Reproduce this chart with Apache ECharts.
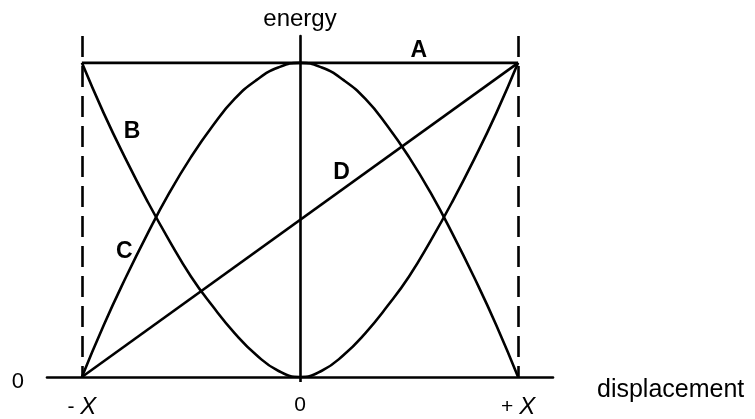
<!DOCTYPE html>
<html>
<head>
<meta charset="utf-8">
<script src="https://cdn.jsdelivr.net/npm/echarts@6/dist/echarts.min.js"></script>
<style>
  html, body { margin: 0; padding: 0; background: #fff; }
  #main { width: 755px; height: 419px; }
</style>
</head>
<body>
<div id="main"></div>
<script>
// displacement in units of X (from -X to +X)
const displacement = [-1, -0.9, -0.8, -0.7, -0.6, -0.5, -0.4, -0.3, -0.2, -0.1, 0,
  0.1, 0.2, 0.3, 0.4, 0.5, 0.6, 0.7, 0.8, 0.9, 1];
// curve B (falls to 0 at the middle)
const curveB = [1, 0.84, 0.695, 0.56, 0.435, 0.32, 0.225, 0.14, 0.07, 0.02, 0,
  0.02, 0.07, 0.14, 0.225, 0.32, 0.435, 0.56, 0.695, 0.84, 1];
// curve C (peaks at the middle)
const curveC = [0, 0.165, 0.315, 0.455, 0.585, 0.7, 0.8, 0.885, 0.945, 0.985, 1,
  0.985, 0.945, 0.885, 0.8, 0.7, 0.585, 0.455, 0.315, 0.165, 0];
// straight lines A and D
const lineA = [[-1, 1], [1, 1]];
const lineD = [[-1, 0], [1, 1]];
// tick labels on the displacement axis
const tickValues = [-1, 0, 1];
const tickLabels = ['{n|- }{i|X}', '{n|0}', '{n|+ }{i|X}'];
// letters that name the lines
const letterNames = ['A', 'B', 'C', 'D'];
const letterX = [0.545, -0.77, -0.805, 0.19];
const letterY = [1.04, 0.78, 0.40, 0.65];
// dashed bounds at -X and +X
const bounds = [-1, 1];

const ink = '#000';
const lw = 2.6;
const yMax = 1.0854;

var myChart = echarts.init(document.getElementById('main'));

const xy = (xs, ys) => xs.map((x, i) => [x, ys[i]]);

const option = {
  backgroundColor: '#fff',
  animation: false,
  textStyle: { fontFamily: 'Liberation Sans, Arial, sans-serif' },
  grid: { left: 47, right: 202, top: 36, bottom: 40 },
  xAxis: {
    type: 'value',
    min: -1.16,
    max: 1.16,
    name: 'displacement',
    nameLocation: 'end',
    nameGap: 44,
    nameTextStyle: { color: ink, fontSize: 25, verticalAlign: 'top', padding: [1, 0, 0, 0] },
    axisLine: { onZero: false, lineStyle: { color: ink, width: lw } },
    axisTick: { show: true, customValues: [0], length: 5, lineStyle: { color: ink, width: lw } },
    axisLabel: {
      customValues: tickValues,
      margin: 18,
      formatter: function (v) {
        return tickLabels[tickValues.indexOf(v)];
      },
      rich: {
        n: { fontSize: 21, color: ink },
        i: { fontSize: 24, color: ink, fontStyle: 'italic' }
      }
    },
    splitLine: { show: false }
  },
  yAxis: [{
    type: 'value',
    min: 0,
    max: yMax,
    name: 'energy',
    nameLocation: 'end',
    nameGap: 5,
    nameTextStyle: { color: ink, fontSize: 24 },
    axisLine: { show: true, onZero: true, lineStyle: { color: ink, width: lw } },
    axisTick: { show: false },
    axisLabel: { show: false },
    splitLine: { show: false }
  }, {
    type: 'value',
    min: 0,
    max: yMax,
    position: 'left',
    axisLine: { show: false, onZero: false },
    axisTick: { show: false },
    axisLabel: {
      customValues: [0],
      margin: 23,
      fontSize: 22,
      color: ink,
      verticalAlign: 'top',
      lineHeight: 10
    },
    splitLine: { show: false }
  }],
  series: [{
    name: 'A',
    type: 'line',
    data: lineA,
    symbol: 'none',
    lineStyle: { color: ink, width: lw },
    markLine: {
      silent: true,
      symbol: 'none',
      label: { show: false },
      lineStyle: { color: ink, width: lw, type: [21, 9] },
      data: bounds.map(b => [{ coord: [b, yMax] }, { coord: [b, 0] }])
    }
  }, {
    name: 'B',
    type: 'line',
    data: xy(displacement, curveB),
    smooth: 0.5,
    symbol: 'none',
    lineStyle: { color: ink, width: lw }
  }, {
    name: 'C',
    type: 'line',
    data: xy(displacement, curveC),
    smooth: 0.5,
    symbol: 'none',
    lineStyle: { color: ink, width: lw }
  }, {
    name: 'D',
    type: 'line',
    data: lineD,
    symbol: 'none',
    lineStyle: { color: ink, width: lw }
  }, {
    name: 'letters',
    type: 'scatter',
    symbolSize: 0,
    itemStyle: { opacity: 1 },
    data: letterNames.map((n, i) => ({ name: n, value: [letterX[i], letterY[i]] })),
    label: {
      show: true,
      position: 'inside',
      formatter: '{b}',
      fontSize: 23,
      fontWeight: 'bold',
      color: ink,
      opacity: 1
    }
  }]
};
myChart.setOption(option);
</script>
</body>
</html>
